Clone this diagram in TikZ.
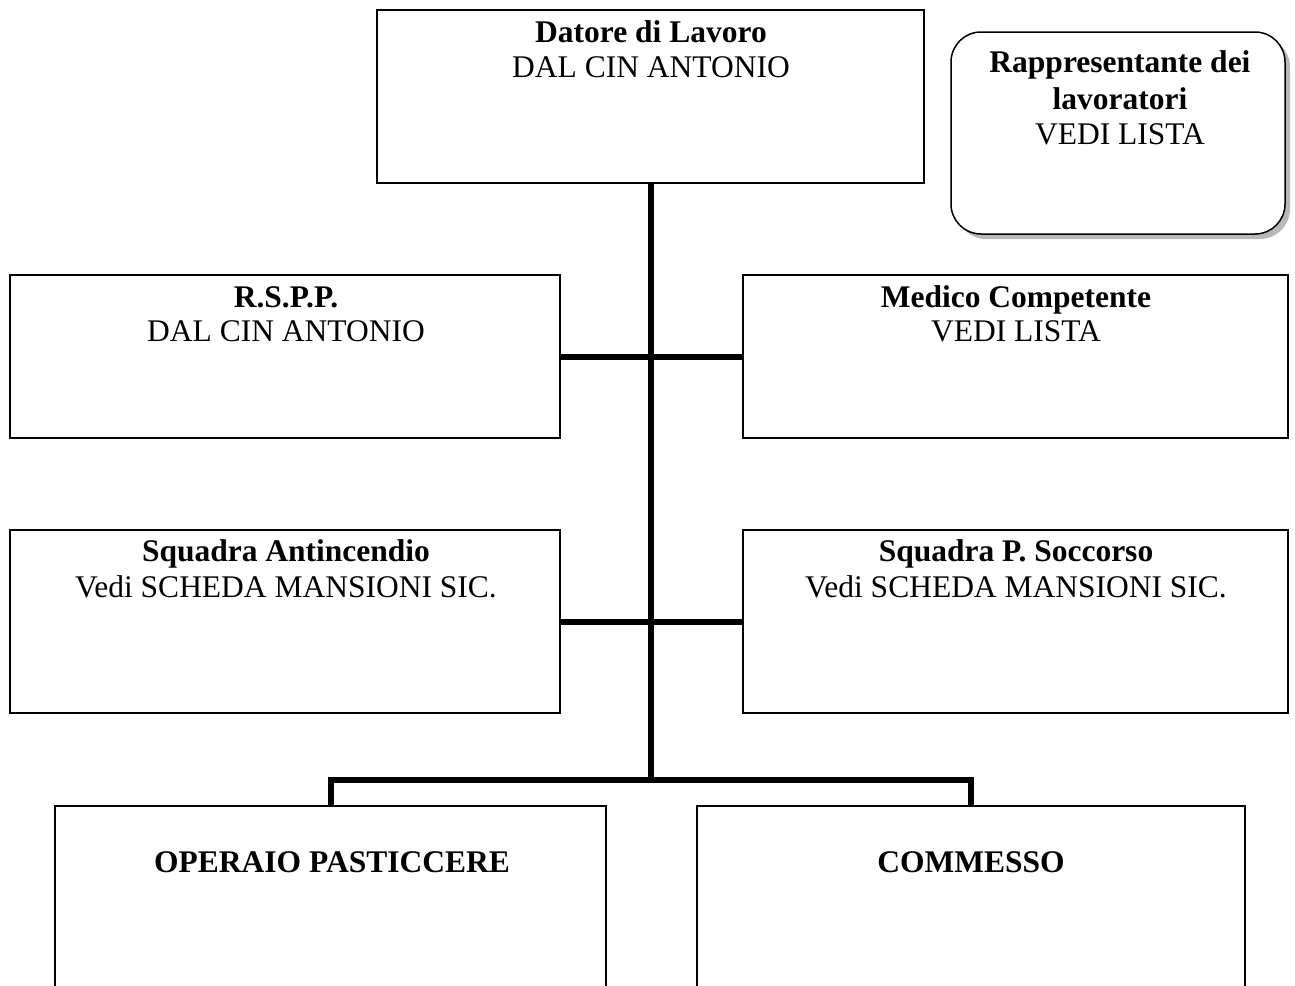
\documentclass[tikz,border=0pt]{standalone}
\usepackage{fontspec}
\setmainfont{Liberation Serif}
\begin{document}
\begin{tikzpicture}[x=1pt,y=-1pt,
  box/.style={draw=black,line width=2pt,rectangle,inner sep=0pt},
  conn/.style={line width=6pt,line cap=butt},
  bt/.style={font=\fontsize{31.5}{36}\selectfont\bfseries,anchor=base,inner sep=0pt},
  nt/.style={font=\fontsize{31.5}{36}\selectfont,anchor=base,inner sep=0pt}]
\useasboundingbox (0,0) rectangle (1295,985);
\fill[white] (0,0) rectangle (1295,985);
\begin{scope}
\clip (0,0) rectangle (1295,985);
% boxes
\node[box,minimum width=547pt,minimum height=173pt] (datore) at (650.5,96.5) {};
\node[box,minimum width=550pt,minimum height=163pt] (rspp) at (285,356.5) {};
\node[box,minimum width=545pt,minimum height=163pt] (medico) at (1015.5,356.5) {};
\node[box,minimum width=550pt,minimum height=183pt] (antinc) at (285,621.5) {};
\node[box,minimum width=545pt,minimum height=183pt] (socc) at (1015.5,621.5) {};
\node[box,minimum width=551pt,minimum height=240pt] (op) at (330.5,926) {};
\node[box,minimum width=548pt,minimum height=240pt] (com) at (971,926) {};
% rappresentante with shadow
\fill[gray!55,rounded corners=30pt] (956,37) rectangle (1290,239);
\node[draw=black,line width=1.5pt,fill=white,rounded corners=30pt,minimum width=334pt,minimum height=202pt,inner sep=0pt] (rapp) at (1118,133) {};
\end{scope}
% connectors
\coordinate (busy) at (datore.south |- 0,780);
\draw[conn] (datore.south) -- (busy);
\draw[conn] (op.north) |- (busy) -| (com.north);
\draw[conn] (rspp.east) -- (medico.west);
\draw[conn] (antinc.east) -- (socc.west);
% texts
\node[bt] (t1a) at (651,42.5) {Datore di Lavoro};
\node[nt] (t1b) at (651,77.5) {DAL CIN ANTONIO};
\node[bt] (t2a) at (286,307.5) {R.S.P.P.};
\node[nt] (t2b) at (286,341.5) {DAL CIN ANTONIO};
\node[bt] (t3a) at (1016,307.5) {Medico Competente};
\node[nt] (t3b) at (1016,341.5) {VEDI LISTA};
\node[bt] (t4a) at (286,561.5) {Squadra Antincendio};
\node[nt] (t4b) at (286,597.5) {Vedi SCHEDA MANSIONI SIC.};
\node[bt] (t5a) at (1016,561.5) {Squadra P. Soccorso};
\node[nt] (t5b) at (1016,597.5) {Vedi SCHEDA MANSIONI SIC.};
\node[bt] (t6a) at (1120,72.5) {Rappresentante dei};
\node[bt] (t6b) at (1120,109.5) {lavoratori};
\node[nt] (t6c) at (1120,144.5) {VEDI LISTA};
\node[bt] (t7) at (332,872.5) {OPERAIO PASTICCERE};
\node[bt] (t8) at (971,872.5) {COMMESSO};
\end{tikzpicture}
\end{document}
